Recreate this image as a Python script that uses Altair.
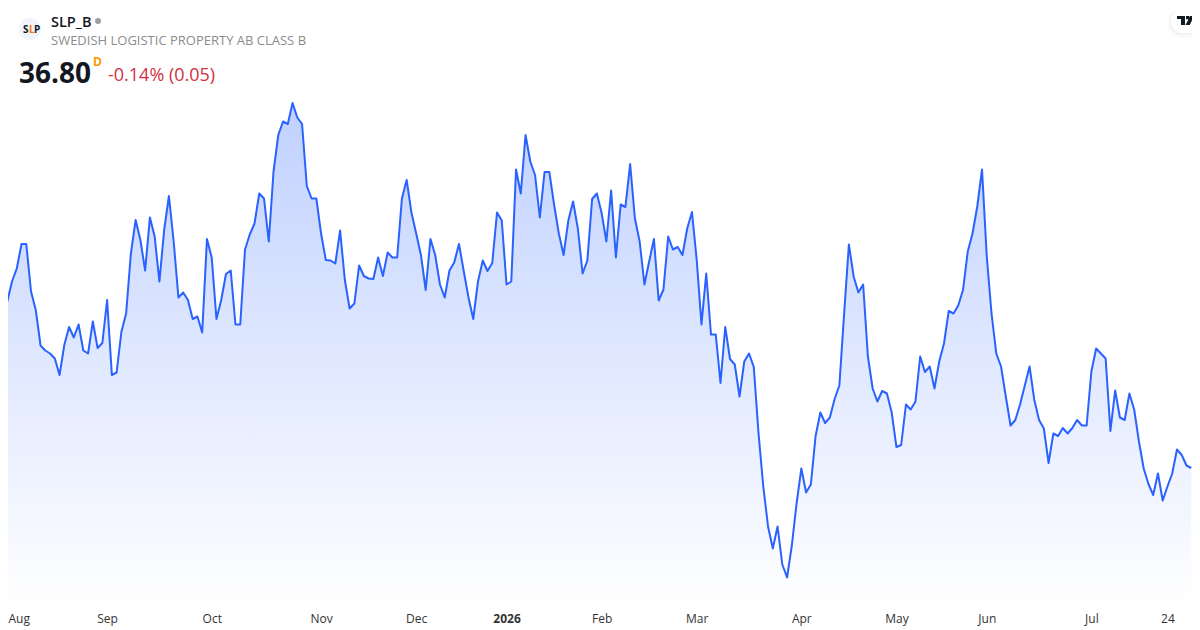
import altair as alt
import pandas as pd

# Closing prices, one per session
closes = [
39.84,40.13,40.53,40.79,41.28,41.28,40.33,39.96,39.25,39.15,39.09,38.99,38.66,39.26,39.62,39.41,39.67,39.15,39.09,39.73,
39.20,39.30,40.16,38.66,38.71,39.52,39.89,41.09,41.76,41.36,40.75,41.81,41.43,40.53,41.56,42.24,41.33,40.21,40.31,40.16,
39.78,39.83,39.51,41.38,41.01,39.78,40.16,40.68,40.75,39.67,39.67,41.17,41.47,41.69,42.29,42.19,41.33,42.73,43.46,43.73,
43.68,44.10,43.81,43.68,42.44,42.19,42.19,41.49,40.96,40.95,40.89,41.55,40.56,39.99,40.09,40.85,40.64,40.59,40.58,41.01,
40.64,41.11,41.01,41.01,42.19,42.56,41.91,41.49,41.06,40.36,41.38,41.06,40.47,40.21,40.75,40.91,41.28,40.74,40.21,39.78,
40.53,40.95,40.74,40.90,41.91,41.75,40.47,40.53,42.77,42.29,43.46,42.93,42.66,41.81,42.72,42.72,42.07,41.49,41.06,41.75,
42.13,41.59,40.69,40.95,42.18,42.29,41.90,41.33,42.35,41.01,42.07,42.02,42.88,41.79,41.33,40.47,40.93,41.38,40.15,40.37,
41.43,41.17,41.22,41.06,41.59,41.92,40.96,39.67,40.69,39.47,39.47,38.50,39.62,38.98,38.87,38.23,38.93,39.09,38.82,37.49,
36.43,35.63,35.19,35.63,34.87,34.61,35.25,36.09,36.79,36.31,36.47,37.44,37.91,37.70,37.81,38.18,38.45,39.89,41.27,40.63,
40.31,40.47,39.03,38.39,38.13,38.34,38.29,37.91,37.22,37.26,38.07,37.97,38.13,39.03,38.72,38.83,38.39,38.93,39.29,39.94,
39.89,40.05,40.36,41.13,41.49,42.03,42.77,41.03,39.89,39.09,38.83,38.23,37.65,37.76,38.07,38.45,38.83,38.16,37.76,37.59,
36.90,37.49,37.44,37.60,37.49,37.60,37.76,37.65,37.65,38.73,39.19,39.09,38.99,37.54,38.35,37.81,37.76,38.29,37.97,37.33,
36.79,36.48,36.26,36.69,36.15,36.43,36.69,37.17,37.06,36.85,36.80,
]
tick_sessions = [1.16, 22, 44, 67, 87, 106, 126, 146, 168, 188, 207, 229, 245]
tick_labels = ["Aug", "Sep", "Oct", "Nov", "Dec", "2026", "Feb", "Mar", "Apr", "May", "Jun", "Jul", "24"]
symbol = "SLP_B"
company = "SWEDISH LOGISTIC PROPERTY AB CLASS B"
last_price = "36.80"
interval = "D"
change_text = "-0.14% (0.05)"
axis_floor = 34

FONT = "Open Sans"
LINE = "#2962ff"
df = pd.DataFrame({"session": range(len(closes)), "close": closes})

label_expr = (
    "[" + ",".join(f"'{t}'" for t in tick_labels) + "][indexof(["
    + ",".join(str(v) for v in tick_sessions) + "],datum.value)]"
)
x_enc = alt.X(
    "session:Q",
    scale=alt.Scale(domain=[1.157, 250.16], nice=False, zero=False),
    axis=alt.Axis(
        title=None, values=tick_sessions, labelExpr=label_expr, grid=False, domain=False, ticks=False,
        labelFlush=10, labelOverlap=False, labelPadding=5, labelFont=FONT, labelFontSize=12, labelColor="#333333",
        labelFontWeight={"condition": {"test": "datum.value == 106", "value": "bold"}, "value": "normal"},
    ),
)
y_enc = alt.Y("close:Q", scale=alt.Scale(domain=[axis_floor, 46], nice=False, zero=False), axis=None)

area = alt.Chart(df).mark_area(
    clip=True,
    opacity=1,
    fill={
        "gradient": "linear",
        "x1": 1, "y1": 1, "x2": 1, "y2": 0,
        "stops": [
            {"offset": 0, "color": "#ffffff"},
            {"offset": 1, "color": "#c0d1ff"},
        ],
    },
).encode(x=x_enc, y=y_enc, y2=alt.datum(axis_floor))
line = alt.Chart(df).mark_line(clip=True, color=LINE, strokeWidth=2, strokeJoin="round").encode(x=x_enc, y=y_enc)


def text(s, x, y, size, color, weight="normal", align="left"):
    return alt.Chart(pd.DataFrame({"t": [s]})).mark_text(
        align=align, baseline="alphabetic", font=FONT, fontSize=size, color=color, fontWeight=weight
    ).encode(x=alt.value(x - 8), y=alt.value(y - 8), text="t:N")


def symbol_mark(x, y, size, color, shape="circle"):
    return alt.Chart(pd.DataFrame({"k": [0]})).mark_point(
        filled=True, shape=shape, size=size, color=color, opacity=1, strokeWidth=0
    ).encode(x=alt.value(x - 8), y=alt.value(y - 8))


def pill(x, y, y2, color, opacity):
    return alt.Chart(pd.DataFrame({"k": [0]})).mark_rect(
        color=color, opacity=opacity, cornerRadiusTopLeft=12, cornerRadiusBottomLeft=12
    ).encode(x=alt.value(x - 8), x2=alt.value(1184), y=alt.value(y - 8), y2=alt.value(y2 - 8))


TV_PATH = (
    "M-1,-0.53 H-0.06 V0.53 H-0.53 V-0.18 H-1 Z "
    "M0.06,-0.53 H0.45 V-0.15 H0.06 Z "
    "M0.55,-0.53 H1 L0.5,0.53 H0 Z"
)

chart = alt.layer(
    area,
    line,
    symbol_mark(30, 29, 484, "#f0f3fa"),
    text("S", 23, 33, 10, "#131722", "bold"),
    text("L", 29, 33, 10, "#f57c00", "bold"),
    text("P", 34, 33, 10, "#131722", "bold"),
    text(symbol, 51, 27, 14.5, "#131722", 600),
    symbol_mark(98, 21, 36, "#9e9e9e"),
    text(company, 51, 45, 13, "#8c8c8c"),
    text(last_price, 19, 83, 28, "#131722", "bold"),
    text(interval, 93, 66, 12, "#ff9800", "bold"),
    text(change_text, 108, 81, 18, "#d32f3f"),
    pill(1168, 9, 38, "#000000", 0.02),
    pill(1170, 9, 35, "#000000", 0.03),
    pill(1171, 9, 33, "#ffffff", 1),
    symbol_mark(1185.5, 20.5, 289, "#131722", TV_PATH),
).properties(
    width=1184,
    height=600,
    padding={"left": 0, "top": 0, "right": 0, "bottom": 22},
    autosize=alt.AutoSizeParams(type="none"),
    background="#ffffff",
).configure_view(stroke=None)

chart.save("out.html", embed_options={"renderer": "svg", "actions": False})
